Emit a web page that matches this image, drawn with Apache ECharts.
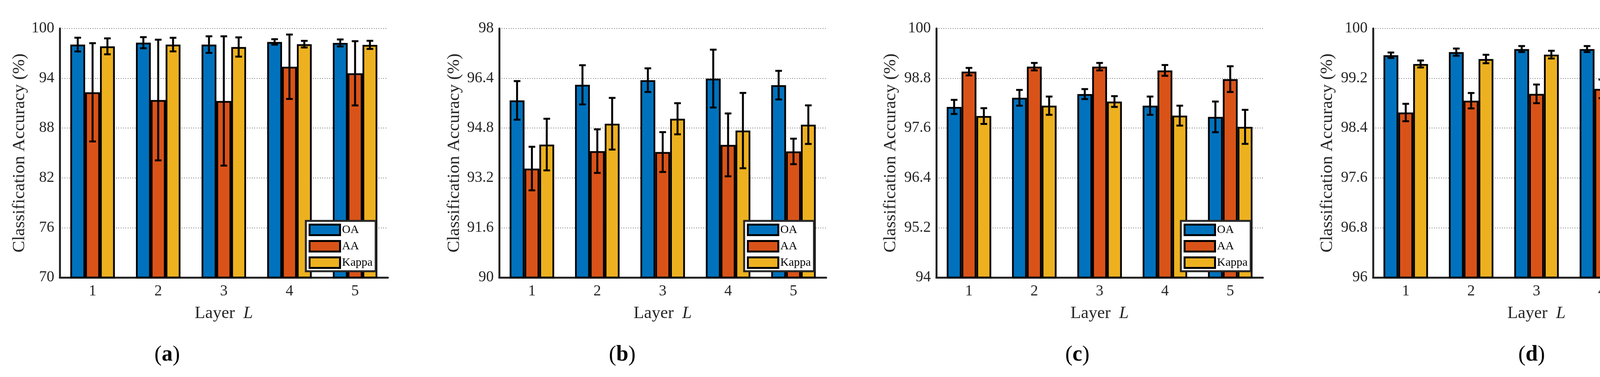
<!DOCTYPE html>
<html>
<head>
<meta charset="utf-8">
<script src="https://cdn.jsdelivr.net/npm/echarts@6/dist/echarts.min.js"></script>
<style>
  html, body { margin: 0; padding: 0; background: #fff; }
  #chart { width: 4391px; height: 966px; }
</style>
</head>
<body>
<div id="chart"></div>
<script>
const layers = ['1', '2', '3', '4', '5'];
const seriesNames = ['OA', 'AA', 'Kappa'];

// (a)
const ticksA = [70, 76, 82, 88, 94, 100];
const oaA = [98.06, 98.29, 98.06, 98.38, 98.26];
const oaErrA = [0.83, 0.67, 1.0, 0.33, 0.42];
const aaA = [92.31, 91.38, 91.27, 95.39, 94.6];
const aaErrA = [5.92, 7.27, 7.79, 3.88, 3.87];
const kappaA = [97.85, 98.06, 97.77, 98.11, 98.03];
const kappaErrA = [0.96, 0.82, 1.16, 0.4, 0.49];

// (b)
const ticksB = [90, 91.6, 93.2, 94.8, 96.4, 98];
const oaB = [95.69, 96.19, 96.34, 96.39, 96.18];
const oaErrB = [0.62, 0.63, 0.38, 0.93, 0.46];
const aaB = [93.5, 94.06, 94.03, 94.26, 94.05];
const aaErrB = [0.7, 0.7, 0.64, 1.01, 0.41];
const kappaB = [94.27, 94.94, 95.1, 94.72, 94.91];
const kappaErrB = [0.83, 0.83, 0.5, 1.21, 0.62];

// (c)
const ticksC = [94, 95.2, 96.4, 97.6, 98.8, 100];
const oaC = [98.11, 98.33, 98.42, 98.14, 97.87];
const oaErrC = [0.17, 0.19, 0.12, 0.22, 0.37];
const aaC = [98.96, 99.08, 99.08, 98.99, 98.78];
const aaErrC = [0.09, 0.09, 0.09, 0.13, 0.31];
const kappaC = [97.89, 98.14, 98.24, 97.9, 97.63];
const kappaErrC = [0.19, 0.22, 0.13, 0.24, 0.41];

// (d)
const ticksD = [96, 96.8, 97.6, 98.4, 99.2, 100];
const oaD = [99.57, 99.62, 99.67, 99.67, 99.67];
const oaErrD = [0.044, 0.058, 0.048, 0.048, 0.031];
const aaD = [98.65, 98.84, 98.95, 99.03, 99.01];
const aaErrD = [0.14, 0.124, 0.15, 0.15, 0.145];
const kappaD = [99.43, 99.51, 99.58, 99.58, 99.57];
const kappaErrD = [0.056, 0.068, 0.062, 0.056, 0.046];

const colors = ['#0072BD', '#D95319', '#EDB120'];
const FONT = '"Liberation Serif", "Times New Roman", serif';
const AXIS = '#262626';
const BAR_W = 38;

const panels = [
  { tag: 'a', ticks: ticksA, vals: [oaA, aaA, kappaA], errs: [oaErrA, aaErrA, kappaErrA], left: 153, width: 840, nameGap: 80, capX: 428 },
  { tag: 'b', ticks: ticksB, vals: [oaB, aaB, kappaB], errs: [oaErrB, aaErrB, kappaErrB], left: 1278, width: 837, nameGap: 92, capX: 1593 },
  { tag: 'c', ticks: ticksC, vals: [oaC, aaC, kappaC], errs: [oaErrC, aaErrC, kappaErrC], left: 2397, width: 836, nameGap: 94, capX: 2758 },
  { tag: 'd', ticks: ticksD, vals: [oaD, aaD, kappaD], errs: [oaErrD, aaErrD, kappaErrD], left: 3515, width: 837, nameGap: 94, capX: 3921 }
];

function errorBar(offset) {
  return function (params, api) {
    const i = api.value(0);
    const lo = api.coord([i, api.value(1)]);
    const hi = api.coord([i, api.value(2)]);
    const x = lo[0] + offset;
    const cap = 8.5;
    const style = { stroke: '#000', lineWidth: 5, fill: null };
    return {
      type: 'group',
      children: [
        { type: 'line', shape: { x1: x, y1: hi[1], x2: x, y2: lo[1] }, style: style },
        { type: 'line', shape: { x1: x - cap, y1: hi[1], x2: x + cap, y2: hi[1] }, style: style },
        { type: 'line', shape: { x1: x - cap, y1: lo[1], x2: x + cap, y2: lo[1] }, style: style }
      ]
    };
  };
}

const grid = [], xAxis = [], yAxis = [], series = [], legend = [], graphic = [];

panels.forEach((p, g) => {
  grid.push({ left: p.left, top: 73, width: p.width, height: 638 });
  xAxis.push({
    type: 'category', gridIndex: g, data: layers,
    name: '{n|Layer  }{i|L}', nameLocation: 'middle', nameGap: 70,
    nameTextStyle: {
      rich: {
        n: { fontFamily: FONT, fontSize: 44, color: AXIS },
        i: { fontFamily: FONT, fontSize: 44, color: AXIS, fontStyle: 'italic' }
      }
    },
    axisLine: { onZero: false, lineStyle: { color: AXIS, width: 5 } },
    axisTick: { show: false },
    axisLabel: { fontFamily: FONT, fontSize: 39, color: AXIS, margin: 16 }
  });
  yAxis.push({
    type: 'value', gridIndex: g,
    min: p.ticks[0], max: p.ticks[p.ticks.length - 1],
    name: 'Classification Accuracy (%)', nameLocation: 'middle', nameGap: p.nameGap,
    nameTextStyle: { fontFamily: FONT, fontSize: 45, color: AXIS },
    axisLine: { show: true, lineStyle: { color: AXIS, width: 5 } },
    axisTick: { show: false, customValues: p.ticks },
    axisLabel: { customValues: p.ticks, fontFamily: FONT, fontSize: 39, color: AXIS, margin: 14,
      formatter: v => String(v) },
    splitLine: { show: true, lineStyle: { type: [2, 4], color: '#7a7a7a', width: 2 } }
  });
  seriesNames.forEach((name, k) => {
    series.push({
      type: 'bar', name: name, xAxisIndex: g, yAxisIndex: g,
      data: p.vals[k], barWidth: BAR_W, barGap: '0%',
      itemStyle: { color: colors[k], borderColor: '#000', borderWidth: 4.5 },
      z: 2
    });
  });
  seriesNames.forEach((name, k) => {
    series.push({
      type: 'custom', xAxisIndex: g, yAxisIndex: g,
      renderItem: errorBar((k - 1) * BAR_W),
      encode: { x: 0, y: [1, 2] },
      data: p.vals[k].map((v, i) => [i, v - p.errs[k][i], v + p.errs[k][i]]),
      z: 3, silent: true
    });
  });
  legend.push({
    data: seriesNames, orient: 'vertical',
    left: p.left + p.width - 210, top: 566,
    icon: 'rect', itemWidth: 78, itemHeight: 27, itemGap: 10,
    padding: [7, 8, 6, 7],
    backgroundColor: '#fff', borderColor: AXIS, borderWidth: 5,
    itemStyle: { borderColor: '#000', borderWidth: 5 },
    textStyle: { fontFamily: FONT, fontSize: 30, color: '#000' }
  });
  graphic.push({
    type: 'text', x: p.capX, y: 910,
    style: {
      text: '{p|(}{b|' + p.tag + '}{p|)}',
      align: 'center', verticalAlign: 'middle',
      rich: {
        p: { fontFamily: FONT, fontSize: 56, fill: '#000' },
        b: { fontFamily: FONT, fontSize: 56, fontWeight: 'bold', fill: '#000' }
      }
    }
  });
});

const chart = echarts.init(document.getElementById('chart'));
chart.setOption({
  animation: false,
  backgroundColor: '#fff',
  grid: grid,
  xAxis: xAxis,
  yAxis: yAxis,
  legend: legend,
  series: series,
  graphic: graphic
});
</script>
</body>
</html>
